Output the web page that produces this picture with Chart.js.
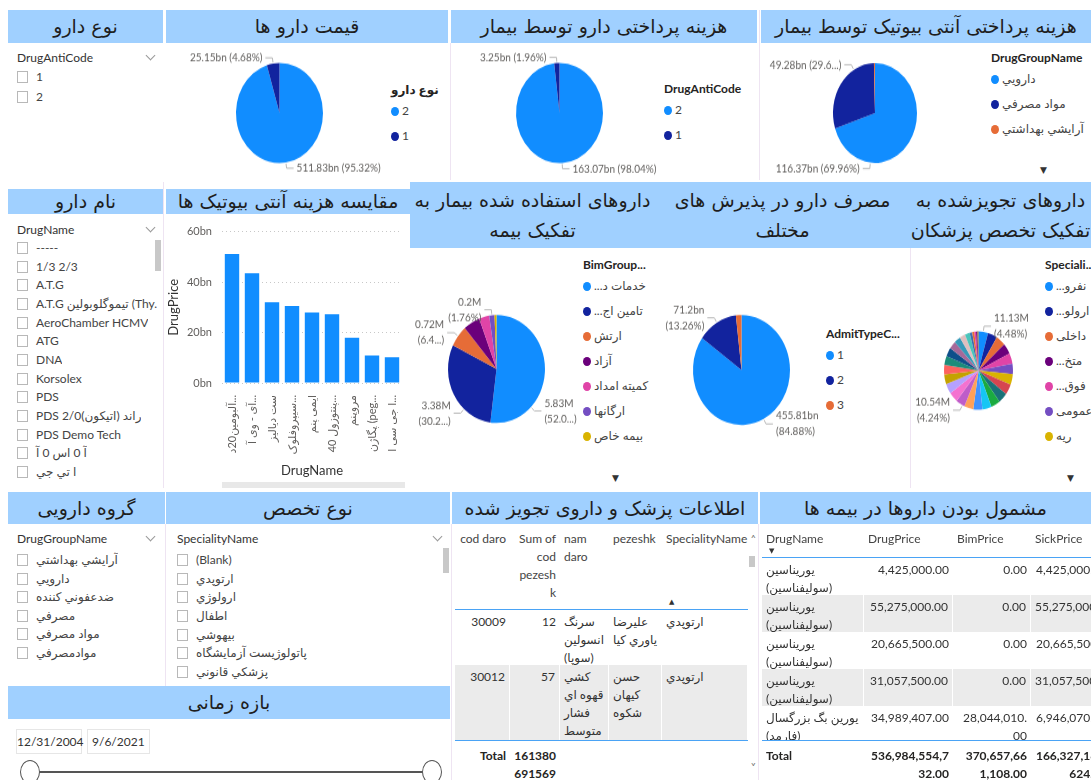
<!DOCTYPE html>
<html lang="fa">
<head>
<meta charset="utf-8">
<title>داشبورد دارو</title>
<script src="https://cdn.jsdelivr.net/npm/chart.js@4.4.1/dist/chart.umd.min.js"></script>
<style>
body { margin:0; width:1091px; height:780px; overflow:hidden; position:relative; background:#fff;
  font-family: Lato, "DejaVu Sans", sans-serif; color:#252423; }
div { position:absolute; }
.hdr { background:#a0d0ff; color:#1e1e1e; font:19px "DejaVu Sans", sans-serif; text-align:center;
  overflow:hidden; white-space:nowrap; direction:rtl; box-sizing:border-box; }
.sl-title { font-size:12px; color:#333; line-height:16px; white-space:nowrap; }
.chev { width:6px; height:6px; border-right:1px solid #999; border-bottom:1px solid #999; transform:rotate(45deg); }
.it { font-size:12px; color:#444; white-space:nowrap; line-height:16px; height:16px; overflow:hidden; }
.cb { display:inline-block; width:9px; height:10px; border:1px solid #b8b8b8; vertical-align:-2px; margin-right:8px; background:#fff; }
.lg { font-size:12px; color:#444; white-space:nowrap; line-height:16px; }
.lg b { color:#252423; }
.dot { display:inline-block; width:8px; height:9px; border-radius:50%; vertical-align:-1px; margin-right:3px; }
.vl { width:1px; background:#eee4f2; }
.cell { box-sizing:border-box; padding:3px 4px; font-size:12px; line-height:18px; color:#333; overflow:hidden; white-space:nowrap; }
.cell.r { text-align:right; white-space:normal; word-break:break-all; }
.cell.b { font-weight:700; color:#252423; }
.cell.h { color:#444; }
.bl { height:1px; background:#4aa3f5; }
.sc { width:6px; background:#c8c8c8; }
</style>
</head>
<body>
<script>
// ---- قیمت دارو ها / هزینه پرداختی دارو توسط بیمار (bn) ----
const drugCodeLabels = ['2', '1'];
const drugPriceBn = [511.83, 25.15];
const sickPriceBn = [163.07, 3.254];

// ---- هزینه پرداختی آنتی بیوتیک توسط بیمار (bn) ----
const groupLabels = ['دارويي', 'مواد مصرفي', 'آرايشي بهداشتي'];
const groupSickBn = [116.37, 49.28, 0.68];

// ---- مقایسه هزینه آنتی بیوتیک ها (bn) ----
const abNames = ['آلبومین20د...', 'آی - وی آ...', 'ست دیالیز', 'سیپروفلوک...', 'ایمی پنم',
  'پنتوزول 40...', 'مروپنم', 'پگاژن (peg...', 'ا جی سی ا...'];
const abPriceBn = [51.1, 43.5, 32.0, 30.5, 27.9, 27.2, 17.9, 10.9, 10.2];

// ---- داروهای استفاده شده بیمار به تفکیک بیمه (M) ----
const bimLabels = ['خدمات درمانی', 'تامین اجتماعی', 'ارتش', 'آزاد', 'کمیته امداد', 'ارگانها', 'بیمه خاص'];
const bimM = [5.826, 3.384, 0.72, 0.62, 0.38, 0.197, 0.073];

// ---- مصرف دارو در پذیرش های مختلف (bn) ----
const admitLabels = ['1', '2', '3'];
const admitBn = [455.81, 71.2, 9.97];

// ---- داروهای تجویزشده به تفکیک تخصص پزشکان (M) ----
const specLabels = ['نفرولوژی', 'ارولوژی', 'داخلی', 'متخصص قلب', 'فوق تخصص', 'عمومی', 'ریه',
  'ارتوپدی', 'اطفال', 'بیهوشی', 'پاتولوژیست', 'پزشکی قانونی', 'جراحی', 'مغز و اعصاب', 'چشم',
  'زنان', 'پوست', 'روانپزشکی', 'رادیولوژی', 'عفونی', 'غدد', 'قلب و عروق', 'گوش و حلق و بینی',
  'خون', 'روماتولوژی', 'اورژانس', 'طب فیزیکی', 'دندانپزشکی', 'تغذیه'];
const specM = [11.13, 11.05, 11.0, 10.95, 10.9, 10.88, 10.85, 10.8, 10.75, 10.7, 10.65, 10.6, 10.57,
  10.54, 10.5, 10.3, 10.1, 9.8, 9.4, 8.9, 8.2, 7.4, 6.5, 5.6, 3.0, 2.5, 2.0, 1.5, 1.33];

// ---- slicers ----
const antiCodes = ['1', '2'];
const drugNames = ['-----', '1/3 2/3', 'A.T.G', 'A.T.G تیموگلوبولین (Thy...', 'AeroChamber HCMV', 'ATG',
  'DNA', 'Korsolex', 'PDS', 'PDS 2/0راند (اتیکون)', 'PDS Demo Tech', 'آ 0 اس 0 آ', 'ا تي جي'];
const drugGroups = ['آرايشي بهداشتي', 'دارويي', 'ضدعفوني کننده', 'مصرفي', 'مواد مصرفي', 'موادمصرفي'];
const specialities = ['(Blank)', 'ارتوپدي', 'ارولوژي', 'اطفال', 'بيهوشي', 'پاتولوژيست آزمايشگاه', 'پزشکي قانوني'];

// ---- tables ----
const rxCodDaro = ['30009', '30012'];
const rxSumPezeshk = ['12', '57'];
const rxNamDaro = [['سرنگ', 'انسولين', '(سوپا)'], ['کشي', 'قهوه اي', 'فشار', 'متوسط']];
const rxPezeshk = [['عليرضا', 'ياوري کيا'], ['حسن', 'کيهان', 'شکوه']];
const rxSpeciality = ['ارتوپدي', 'ارتوپدي'];
const rxTotal = '161380<br>691569';

const covDrugName = [['يوريناسين', '(سوليفناسين)'], ['يوريناسين', '(سوليفناسين)'], ['يوريناسين', '(سوليفناسين)'],
  ['يوريناسين', '(سوليفناسين)'], ['يورين بگ بزرگسال', '(فارمد)']];
const covDrugPrice = ['4,425,000.00', '55,275,000.00', '20,665,500.00', '31,057,500.00', '34,989,407.00'];
const covBimPrice = ['0.00', '0.00', '0.00', '0.00', '28,044,010.00'];
const covSickPrice = ['4,425,000.00', '55,275,000.00', '20,665,500.00', '31,057,500.00', '6,946,070.00'];
const covTotal = ['536,984,554,732.00', '370,657,661,108.00', '166,327,187,624.00'];

const PBI = ['#118DFF', '#12239E', '#E66C37', '#6B007B', '#E044A7', '#744EC2', '#D9B300', '#D64550',
  '#197278', '#1AAB40', '#15C6F4', '#4092FF', '#FFA058', '#BE5DC9', '#F472D0', '#B5A1FF', '#C4A200',
  '#FD625E', '#1B8C7A', '#0E4F8A', '#A66999', '#3599B8', '#DFBFBF', '#4AC5BB', '#3C6FB0', '#E66C37',
  '#E044A7', '#6B007B', '#8D6E2C'];

const FONT = 'Lato, "DejaVu Sans", sans-serif';
Chart.defaults.font.family = FONT;

function div(css, html, cls, parent) {
  const d = document.createElement('div');
  if (cls) d.className = cls;
  d.style.cssText = css;
  if (html != null) d.innerHTML = html;
  (parent || document.body).appendChild(d);
  return d;
}

const mctx = document.createElement('canvas').getContext('2d');
function fitText(t, maxW, font) {
  mctx.font = font;
  if (mctx.measureText(t).width <= maxW) return t;
  const rtl = /[\u0600-\u06FF]/.test(t);
  let s = t;
  while (s.length > 1 && mctx.measureText(s + '...').width > maxW) s = s.slice(0, -1);
  return rtl ? '...' + s.trim() : s + '...';
}

// headers
function header(x, y, w, h, text, two) {
  div(`left:${x}px;top:${y}px;width:${w}px;height:${h}px;` +
    (two ? 'line-height:30px;padding-top:3px;' : `line-height:${h}px;`), text, 'hdr');
}
header(8, 10, 155, 33, 'نوع دارو');
header(166, 10, 282, 33, 'قیمت دارو ها');
header(451, 10, 306, 33, 'هزینه پرداختی دارو توسط بیمار');
header(761, 10, 330, 33, 'هزینه پرداختی آنتی بیوتیک توسط بیمار');
header(8, 189, 155, 25, 'نام دارو');
header(166, 189, 244, 25, 'مقایسه هزینه آنتی بیوتیک ها');
header(410, 182, 245, 66, 'داروهای استفاده شده بیمار به<br>تفکیک بیمه', true);
header(655, 182, 255, 66, 'مصرف دارو در پذیرش های<br>مختلف', true);
header(910, 182, 181, 66, 'داروهای تجویزشده به<br>تفکیک تخصص پزشکان', true);
header(8, 492, 157, 32, 'گروه دارویی');
header(166, 492, 284, 32, 'نوع تخصص');
header(8, 686, 442, 33, 'بازه زمانی');
header(452, 492, 306, 32, 'اطلاعات پزشک و داروی تجویز شده');
header(760, 492, 331, 32, 'مشمول بودن داروها در بیمه ها');

// thin separators
[[450, 43, 137], [759, 10, 170], [163, 182, 306], [910, 248, 240], [165, 524, 162], [451, 524, 256], [758, 524, 256]]
  .forEach(([x, y, h]) => div(`left:${x}px;top:${y}px;height:${h}px`, '', 'vl'));

// slicers
function slicer(x, y, title, items, first, step, chevX, w) {
  div(`left:${x}px;top:${y - 8}px`, title, 'sl-title');
  div(`left:${chevX}px;top:${y - 6}px`, '', 'chev');
  items.forEach((t, i) => div(`left:${x}px;top:${Math.round(y + first + i * step - 8)}px;max-width:${w}px`,
    `<span class="cb"></span>${t}`, 'it'));
}
slicer(17, 58, 'DrugAntiCode', antiCodes, 19, 19.5, 147, 140);
slicer(17, 230, 'DrugName', drugNames, 18, 18.67, 147, 140);
slicer(17, 539, 'DrugGroupName', drugGroups, 21, 18.6, 147, 140);
slicer(177, 539, 'SpecialityName', specialities, 21, 18.67, 434, 250);
div('left:155px;top:240px;height:31px', '', 'sc');
div('left:443px;top:548px;height:25px', '', 'sc');

// date range slicer
div('left:16px;top:729px;width:66px;height:25px;border:1px solid #e6e6e6;box-sizing:border-box;font-size:12px;line-height:23px;text-align:center;color:#333', '12/31/2004');
div('left:87px;top:729px;width:63px;height:25px;border:1px solid #e6e6e6;box-sizing:border-box;font-size:12px;line-height:23px;padding-left:4px;color:#333', '9/6/2021');
div('left:38px;top:771px;width:386px;height:2px;background:#555');
div('left:20px;top:760px;width:20px;height:24px;border:1.5px solid #555;border-radius:50%;background:#fff;box-sizing:border-box');
div('left:422px;top:760px;width:20px;height:24px;border:1.5px solid #555;border-radius:50%;background:#fff;box-sizing:border-box');

// legends
function legend(x, y, title, labels, colors, n, maxW) {
  div(`left:${x}px;top:${y - 8}px`, `<b>${fitText(title, maxW, 'bold 12px ' + FONT)}</b>`, 'lg');
  for (let i = 0; i < n; i++) {
    div(`left:${x}px;top:${y + 21 + 25 * i - 8}px`,
      `<span class="dot" style="background:${colors[i]}"></span>${fitText(labels[i], maxW - 11, '12px ' + FONT)}`, 'lg');
  }
}
legend(391, 90, 'نوع دارو', drugCodeLabels, PBI, 2, 55);
legend(664, 89, 'DrugAntiCode', drugCodeLabels, PBI, 2, 90);
legend(991, 58, 'DrugGroupName', groupLabels, PBI, 3, 98);
legend(583, 265, 'BimGroupName', bimLabels, PBI, 7, 66);
legend(826, 334, 'AdmitTypeCode', admitLabels, PBI, 3, 78);
legend(1045, 265, 'SpecialityName', specLabels, PBI, 7, 50);
[[1040, 164], [612, 472], [1067, 472]].forEach(([x, y]) =>
  div(`left:${x}px;top:${y}px;font-size:9px;color:#333`, '&#9660;'));

// pie slice labels with leader lines
function fmtNum(v) { return String(parseFloat(v.toFixed(2))); }
function fitPct(ctx, pre, inner, room) {
  let t = `${pre}(${inner})`;
  if (ctx.measureText(t).width <= room) return t;
  let k = inner.length;
  while (k > 1 && ctx.measureText(`${pre}(${inner.slice(0, k)}...)`).width > room) k--;
  return `${pre}(${inner.slice(0, k)}...)`;
}
const sliceLabels = {
  id: 'sliceLabels',
  afterDatasetsDraw(chart, args, opts) {
    const ctx = chart.ctx;
    const meta = chart.getDatasetMeta(0);
    const vals = chart.data.datasets[0].data;
    const total = vals.reduce((a, b) => a + b, 0);
    ctx.save();
    ctx.font = '10px ' + FONT;
    ctx.textBaseline = 'middle';
    (opts.show || []).forEach(s => {
      const [i, frac] = Array.isArray(s) ? s : [s, 0.5];
      const a = meta.data[i].getProps(['x', 'y', 'startAngle', 'endAngle', 'outerRadius'], true);
      const ang = a.startAngle + (a.endAngle - a.startAngle) * frac;
      const cos = Math.cos(ang), sin = Math.sin(ang);
      const right = cos >= 0;
      const x0 = a.x + cos * (a.outerRadius + 1), y0 = a.y + sin * (a.outerRadius + 1);
      const x1 = a.x + cos * (a.outerRadius + 5), y1 = a.y + sin * (a.outerRadius + 5);
      const x2 = x1 + (right ? 7 : -7);
      ctx.strokeStyle = '#b8b8b8';
      ctx.lineWidth = 1;
      ctx.beginPath(); ctx.moveTo(x0, y0); ctx.lineTo(x1, y1); ctx.lineTo(x2, y1); ctx.stroke();
      const tx = x2 + (right ? 3 : -3);
      const room = right ? chart.width - tx - 5 : tx - 5;
      ctx.textAlign = right ? 'left' : 'right';
      ctx.fillStyle = '#605E5C';
      const v = fmtNum(vals[i]) + opts.unit;
      const p = (vals[i] / total * 100).toFixed(2) + '%';
      const lines = opts.twoLine ? [v, fitPct(ctx, '', p, room)] : [fitPct(ctx, v + ' ', p, room)];
      lines.forEach((t, k) => ctx.fillText(t, tx, y1 + (k - (lines.length - 1) / 2) * 14));
    });
    ctx.restore();
  }
};

function pie(box, c, labels, values, lab) {
  const hPre = box.h / c.sy;
  const wrap = div(`left:${box.x}px;top:${box.y}px;width:${box.w}px;height:${hPre}px;transform:scaleY(${c.sy});transform-origin:0 0;`);
  const cv = document.createElement('canvas');
  wrap.appendChild(cv);
  const ccx = c.x - box.x, ccy = (c.y - box.y) / c.sy;
  new Chart(cv, {
    type: 'pie',
    data: { labels: labels, datasets: [{ data: values, backgroundColor: PBI.slice(0, values.length), borderWidth: 0 }] },
    options: {
      animation: false, responsive: true, maintainAspectRatio: false,
      layout: { padding: { left: ccx - c.r, right: box.w - ccx - c.r, top: ccy - c.r, bottom: hPre - ccy - c.r } },
      plugins: { legend: { display: false }, tooltip: { enabled: false }, sliceLabels: lab }
    },
    plugins: [sliceLabels]
  });
}

pie({ x: 168, y: 44, w: 280, h: 136 }, { x: 279.5, y: 113, r: 43.5, sy: 1.15 }, drugCodeLabels, drugPriceBn,
  { show: [0, 1], unit: 'bn' });
pie({ x: 453, y: 44, w: 222, h: 136 }, { x: 559.5, y: 113, r: 43.5, sy: 1.15 }, drugCodeLabels, sickPriceBn,
  { show: [0, 1], unit: 'bn' });
pie({ x: 761, y: 44, w: 229, h: 136 }, { x: 875, y: 113, r: 42, sy: 1.19 }, groupLabels, groupSickBn,
  { show: [[0, 0.74], [1, 0.73]], unit: 'bn' });
pie({ x: 410, y: 249, w: 176, h: 236 }, { x: 496.5, y: 369, r: 48.5, sy: 1.113 }, bimLabels, bimM,
  { show: [[0, 0.72], [1, 0.32], 2, 5], unit: 'M', twoLine: true });
pie({ x: 655, y: 249, w: 180, h: 236 }, { x: 741.5, y: 370, r: 48.5, sy: 1.134 }, admitLabels, admitBn,
  { show: [0, 1], unit: 'bn', twoLine: true });
pie({ x: 910, y: 249, w: 135, h: 236 }, { x: 978.5, y: 370, r: 34.5, sy: 1.13 }, specLabels, specM,
  { show: [0, [13, 0.25]], unit: 'M', twoLine: true });

// bar chart
const barWrap = div('left:166px;top:215px;width:244px;height:270px');
const barCv = document.createElement('canvas');
barWrap.appendChild(barCv);
new Chart(barCv, {
  type: 'bar',
  data: { labels: abNames, datasets: [{ data: abPriceBn, backgroundColor: '#118DFF', barPercentage: 0.72, categoryPercentage: 1 }] },
  options: {
    animation: false, responsive: true, maintainAspectRatio: false,
    layout: { padding: { top: 15, right: 8 } },
    plugins: { legend: { display: false }, tooltip: { enabled: false } },
    scales: {
      x: {
        grid: { display: false }, border: { display: false },
        ticks: { minRotation: 90, maxRotation: 90, autoSkip: false, font: { size: 11 }, color: '#605E5C', padding: 4 },
        title: { display: true, text: 'DrugName', font: { size: 13 }, color: '#333', padding: { top: 0, bottom: 6 } },
        afterFit(s) { s.height = 102; }
      },
      y: {
        min: 0, max: 60,
        ticks: { stepSize: 20, callback: v => v + 'bn', font: { size: 11 }, color: '#605E5C', padding: 10 },
        grid: { color: '#c8c8c8', drawTicks: false },
        border: { display: false, dash: [1, 3] },
        title: { display: true, text: 'DrugPrice', font: { size: 13 }, color: '#333', padding: { top: 0, bottom: 2 } },
        afterFit(s) { s.width = 56; }
      }
    }
  }
});
div('left:222px;top:482px;width:183px;height:6px;background:#e8e8e8');

// tables
function row(cols, y, h, cells, cls, bg) {
  cells.forEach((c, i) => {
    const [x, w, al] = cols[i];
    div(`left:${x}px;top:${y}px;width:${w}px;height:${h}px;` + (bg ? `background:${bg};border-right:1px solid #fff;` : ''),
      c, 'cell' + (al === 'r' ? ' r' : '') + (cls ? ' ' + cls : ''));
  });
}
const rxCols = [[455, 55, 'r'], [510, 50, 'r'], [560, 49, 'l'], [609, 53, 'l'], [662, 86, 'l']];
row(rxCols, 527, 82, ['cod daro', 'Sum of<br>cod<br>pezesh<br>k', 'nam<br>daro', 'pezeshk', 'SpecialityName'], 'h');
div('left:669px;top:597px;font-size:7px;color:#333', '&#9650;');
div('left:455px;top:609px;width:293px', '', 'bl');
let ry = 610;
rxCodDaro.forEach((c, i) => {
  const h = i === 0 ? 55 : 75;
  row(rxCols, ry, h, [c, rxSumPezeshk[i], rxNamDaro[i].join('<br>'), rxPezeshk[i].join('<br>'), rxSpeciality[i]],
    '', i % 2 ? '#ebebeb' : null);
  ry += h;
});
div('left:455px;top:740px;width:293px', '', 'bl');
row(rxCols.slice(0, 2), 744, 40, ['Total', rxTotal], 'b');
div('left:751px;top:532px;font-size:10px;color:#666', '&#708;');
div('left:749px;top:556px;height:11px', '', 'sc');
div('left:751px;top:760px;font-size:10px;color:#666', '&#709;');

const covClip = div('left:760px;top:0;width:331px;height:780px;overflow:hidden');
const covCols = [[2, 102, 'l'], [104, 89, 'r'], [193, 78, 'r'], [271, 80, 'r']];
function covRow(y, h, cells, cls, bg) {
  cells.forEach((c, i) => {
    const [x, w, al] = covCols[i];
    div(`left:${x}px;top:${y}px;width:${w}px;height:${h}px;` + (bg ? `background:${bg};border-right:1px solid #fff;` : ''),
      c, 'cell' + (al === 'r' ? ' r' : '') + (cls ? ' ' + cls : ''), covClip);
  });
}
covRow(527, 30, ['DrugName', 'DrugPrice', 'BimPrice', 'SickPrice'].map(t => `<span style="float:left">${t}</span>`), 'h');
div('left:769px;top:546px;font-size:7px;color:#333', '&#9660;');
div('left:762px;top:557px;width:329px', '', 'bl');
let cy = 558;
covDrugName.forEach((n, i) => {
  const h = i === 4 ? 35 : 37;
  covRow(cy, h, [n.join('<br>'), covDrugPrice[i], covBimPrice[i], covSickPrice[i]], '', i % 2 ? '#ebebeb' : null);
  cy += h;
});
div('left:762px;top:740px;width:329px', '', 'bl');
covRow(744, 40, ['Total'].concat(covTotal), 'b');
</script>
</body>
</html>
